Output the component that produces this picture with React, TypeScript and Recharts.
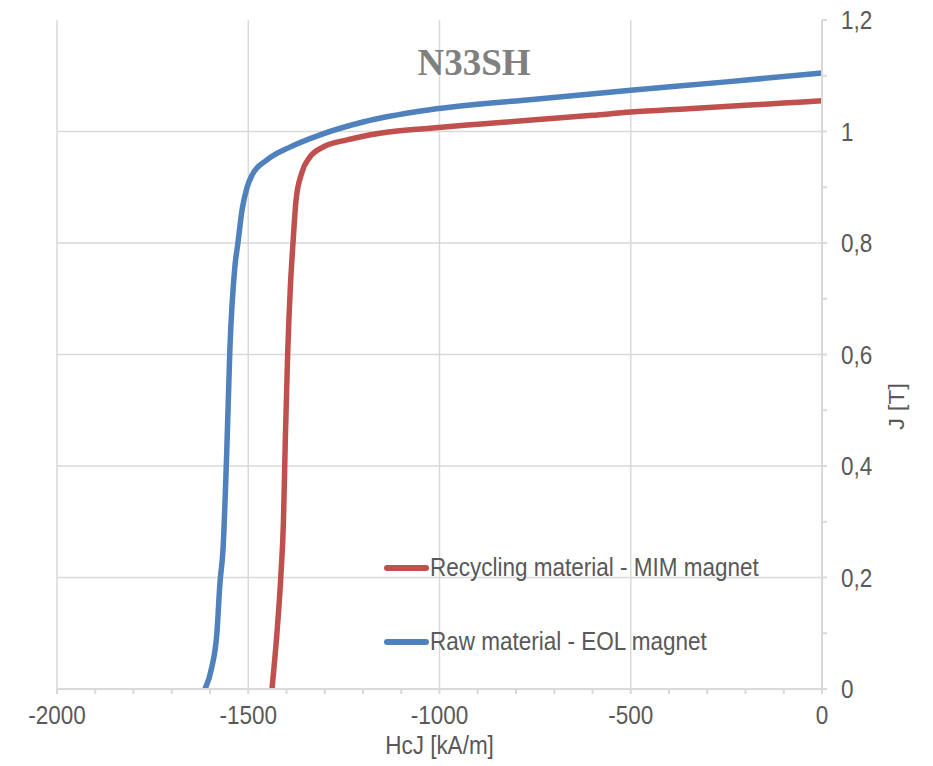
import { LineChart, Line, XAxis, YAxis, ReferenceLine, Label } from 'recharts';

// H [kA/m] and J [T]
const recyclingH = [-1438, -1425, -1415, -1408, -1403, -1397, -1390, -1383, -1375, -1360, -1339, -1305, -1242, -1156, -1025, -900, -750, -600, -500, -350, -200, -100, 0];
const recyclingJ = [0, 0.1, 0.2, 0.3, 0.45, 0.6, 0.72, 0.8, 0.877, 0.926, 0.954, 0.972, 0.985, 0.997, 1.006, 1.013, 1.021, 1.029, 1.035, 1.041, 1.047, 1.051, 1.055];

const rawH = [-1613, -1595, -1582, -1574, -1566, -1556, -1548, -1535, -1527, -1516, -1503, -1490, -1451, -1391, -1312, -1200, -1025, -750, -500, -250, 0];
const rawJ = [0, 0.04, 0.1, 0.19, 0.25, 0.43, 0.61, 0.757, 0.8, 0.86, 0.9, 0.922, 0.949, 0.972, 0.994, 1.017, 1.039, 1.058, 1.074, 1.089, 1.105];

const xTicks = [-2000, -1900, -1800, -1700, -1600, -1500, -1400, -1300, -1200, -1100, -1000, -900, -800, -700, -600, -500, -400, -300, -200, -100, 0];
const xMajor = [-2000, -1500, -1000, -500, 0];
const yTicks = [0, 0.1, 0.2, 0.3, 0.4, 0.5, 0.6, 0.7, 0.8, 0.9, 1, 1.1, 1.2];
const yMajor = [0, 0.2, 0.4, 0.6, 0.8, 1, 1.2];
const xGrid = [-2000, -1500, -1000, -500];
const yGrid = [0.2, 0.4, 0.6, 0.8, 1];

const series = [
  { name: 'Recycling material - MIM magnet', color: '#c0504d', h: recyclingH, j: recyclingJ },
  { name: 'Raw material - EOL magnet', color: '#4f81bd', h: rawH, j: rawJ },
];

const TEXT = '#595959';
const GRID = '#d9d9d9';
const FONT = '"Liberation Sans", Arial, sans-serif';
const STRETCH = 1.13;
const FS = 22.5;

function XTick(props: any) {
  const { x, y, payload } = props;
  if (!xMajor.includes(payload.value)) return null;
  return (
    <g transform={`translate(${x},${y}) scale(1,${STRETCH})`}>
      <text x={0} y={0} dy="0.72em" textAnchor="middle" fill={TEXT} fontSize={FS} fontFamily={FONT}>
        {payload.value}
      </text>
    </g>
  );
}

function YTick(props: any) {
  const { x, y, payload } = props;
  const v = Math.round(payload.value * 10) / 10;
  if (!yMajor.includes(v)) return null;
  return (
    <g transform={`translate(${x},${y}) scale(1,${STRETCH})`}>
      <text x={0} y={0} dy="0.36em" textAnchor="start" fill={TEXT} fontSize={FS} fontFamily={FONT}>
        {String(v).replace('.', ',')}
      </text>
    </g>
  );
}

export default function App() {
  const data = series.map((s) => s.h.map((h, i) => ({ h, j: s.j[i] })));

  return (
    <div style={{ position: 'absolute', left: 0, top: 0, width: 933, height: 766, background: '#fff' }}>
      <LineChart width={933} height={766} margin={{ top: 20, right: 21, left: 57, bottom: 7 }}>
        <XAxis
          dataKey="h"
          type="number"
          domain={[-2000, 0]}
          ticks={xTicks}
          interval={0}
          allowDataOverflow
          stroke={GRID}
          strokeWidth={2}
          tickSize={5}
          tickMargin={12}
          tick={<XTick />}
          height={70}
        >
          <Label
            position="insideBottom"
            content={(p: any) => {
              const vb = p.viewBox;
              const cx = vb.x + vb.width / 2;
              const cy = vb.y + vb.height - 14;
              return (
                <g transform={`translate(${cx},${cy}) scale(1,${STRETCH})`}>
                  <text x={0} y={0} dy="0.36em" textAnchor="middle" fill={TEXT} fontSize={FS} fontFamily={FONT}>
                    HcJ [kA/m]
                  </text>
                </g>
              );
            }}
          />
        </XAxis>
        <YAxis
          yAxisId="j"
          orientation="right"
          type="number"
          domain={[0, 1.2]}
          ticks={yTicks}
          interval={0}
          allowDataOverflow
          stroke={GRID}
          strokeWidth={2}
          tickSize={5}
          tickMargin={14}
          tick={<YTick />}
          width={90}
        >
          <Label
            position="center"
            content={(p: any) => {
              const vb = p.viewBox;
              const cx = vb.x + 74;
              const cy = vb.y + vb.height / 2 + 52;
              return (
                <g transform={`translate(${cx},${cy}) rotate(-90) scale(${STRETCH},1)`}>
                  <text x={0} y={0} dy="0.36em" textAnchor="middle" fill={TEXT} fontSize={FS - 1} fontFamily={FONT}>
                    J [T]
                  </text>
                </g>
              );
            }}
          />
        </YAxis>
        {xGrid.map((v) => (
          <ReferenceLine key={'x' + v} x={v} yAxisId="j" stroke={GRID} strokeWidth={1.5} />
        ))}
        {yGrid.map((v) => (
          <ReferenceLine key={'y' + v} y={v} yAxisId="j" stroke={GRID} strokeWidth={1.5} />
        ))}
        {series.map((s, i) => (
          <Line
            key={s.name}
            yAxisId="j"
            data={data[i]}
            dataKey="j"
            name={s.name}
            type="monotone"
            stroke={s.color}
            strokeWidth={5.5}
            dot={false}
            isAnimationActive={false}
          />
        ))}
      </LineChart>

      <div
        style={{
          position: 'absolute',
          left: 474,
          top: 62,
          transform: 'translate(-50%, -50%)',
          fontFamily: '"Liberation Serif", "Times New Roman", serif',
          fontWeight: 'bold',
          fontSize: 37,
          color: '#808080',
          whiteSpace: 'nowrap',
        }}
      >
        N33SH
      </div>

      {series.map((s, i) => (
        <div
          key={s.name}
          style={{
            position: 'absolute',
            left: 383,
            top: i === 0 ? 568 : 642,
            transform: 'translateY(-50%)',
            display: 'flex',
            alignItems: 'center',
            whiteSpace: 'nowrap',
          }}
        >
          <svg width={47} height={8} style={{ display: 'block' }}>
            <line x1={4} y1={4} x2={43} y2={4} stroke={s.color} strokeWidth={6} strokeLinecap="round" />
          </svg>
          <span
            style={{
              fontFamily: FONT,
              fontSize: FS,
              color: TEXT,
              display: 'inline-block',
              transform: `scaleY(${STRETCH})`,
            }}
          >
            {s.name}
          </span>
        </div>
      ))}
    </div>
  );
}
